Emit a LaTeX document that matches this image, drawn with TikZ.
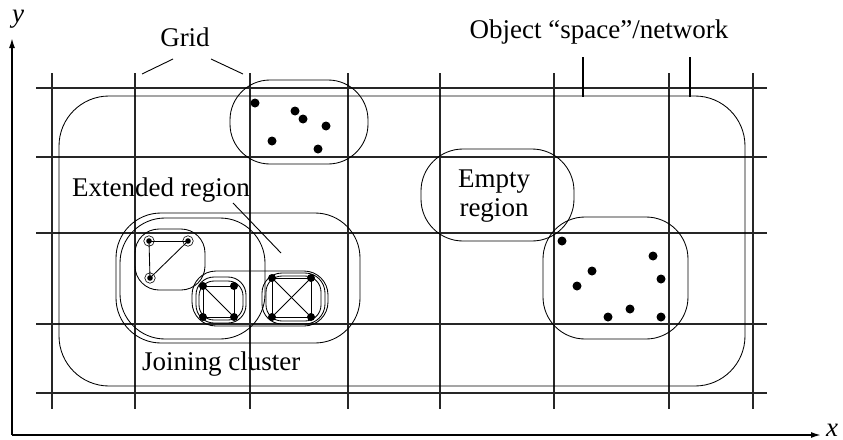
\documentclass[tikz,border=0pt]{standalone}
\usepackage{fontspec}
\setmainfont{Liberation Serif}
\usetikzlibrary{arrows.meta}
\begin{document}
\begin{tikzpicture}[x=1pt,y=-1pt,
  gridline/.style={line width=1.1pt,black!85},
  contour/.style={line width=0.85pt},
  axis/.style={line width=1.6pt,-{Latex[length=10pt,width=6pt]}},
  leader/.style={line width=0.9pt},
  tick/.style={line width=1.6pt},
  dot/.style={circle,fill,inner sep=0pt,minimum size=9pt},
  sdot/.style={circle,fill,inner sep=0pt,minimum size=8pt},
  ring/.style={circle,draw,line width=0.6pt,inner sep=0pt,minimum size=10.5pt},
  edge/.style={line width=0.85pt},
  lbl/.style={inner sep=0pt,font=\fontsize{27}{31}\selectfont}]
\useasboundingbox (0,0) rectangle (843,439);

% axes
\coordinate (origin) at (12,435);
\coordinate (ytip) at (12,38);
\coordinate (xtip) at (821,435);
\draw[axis] (origin) -- (ytip);
\draw[axis] (origin) -- (xtip);
\node[lbl,anchor=base] (ylab) at (18,23) {\itshape y};
\node[lbl,anchor=base west] (xlab) at (826,436) {\itshape x};

% grid
\foreach \gx in {52,135,250,348,440,554,669,753}
  \draw[gridline] (\gx,73) -- (\gx,409);
\foreach \gy in {88,157,233,324,393}
  \draw[gridline] (36,\gy) -- (767,\gy);

% object space / network
\draw[contour] (59,96) [rounded corners=50] rectangle (745,386);

% labels and their leaders
\node[lbl,anchor=base] (gridlab) at (185,46) {Grid};
\coordinate (g1a) at (173,59); \coordinate (g1b) at (142,74);
\coordinate (g2a) at (211,59); \coordinate (g2b) at (243,74);
\draw[leader] (g1a) -- (g1b);
\draw[leader] (g2a) -- (g2b);

\node[lbl,anchor=base] (objlab) at (599,38) {Object “space”/network};
\coordinate (o1a) at (583,57); \coordinate (o1b) at (583,97);
\coordinate (o2a) at (690,57); \coordinate (o2b) at (690,97);
\draw[tick] (o1a) -- (o1b);
\draw[tick] (o2a) -- (o2b);

% upper cluster of points
\draw[contour,rounded corners=40] (230,80) rectangle (368,164);
\foreach \p/\q [count=\i] in {255/103,295/111,303/119,326/126,272/141,318/149}
  \node[dot] (u\i) at (\p,\q) {};

% empty region
\draw[contour,rounded corners=42] (421,149) rectangle (574,241);
\node[lbl,anchor=base] (emptylab) at (494,187) {Empty};
\node[lbl,anchor=base] (regionlab) at (494,216) {region};

% right cluster of points
\draw[contour,rounded corners=42] (543,217) rectangle (688,339);
\foreach \p/\q [count=\i] in {562/241,653/256,592/271,661/279,577/286,630/309,608/317,661/317}
  \node[dot] (r\i) at (\p,\q) {};

% extended region and joining cluster
\draw[contour,rounded corners=45] (116,213) rectangle (360,343);
\draw[contour,rounded corners=45] (120,218) rectangle (265,339);
\node[lbl,anchor=base west] (extlab) at (72,196) {Extended region};
\coordinate (e1a) at (233,203); \coordinate (e1b) at (281,253);
\draw[leader] (e1a) -- (e1b);
\node[lbl,anchor=base west] (joinlab) at (142,370) {Joining cluster};

% triangle cluster
\draw[contour,rounded corners=24] (135,229) rectangle (205,290);
\node[ring] (t1) at (149,241) {};
\node[ring] (t2) at (188,241) {};
\node[ring] (t3) at (150,278) {};
\foreach \t in {t1,t2,t3} \fill (\t.center) circle (2.8pt);
\draw[edge] (t1.center) -- (t2.center);
\draw[edge] (t1.center) -- (t3.center);
\draw[edge] (t3.center) -- (t2.center);

% pair of square clusters
\draw[contour,rounded corners=24] (192,271) rectangle (328,326);
\draw[contour,rounded corners=18] (196,277) rectangle (246,323);
\draw[contour,rounded corners=15] (199,281) rectangle (243,320);
\draw[contour,rounded corners=20] (262,273) rectangle (325,324);
\draw[contour,rounded corners=16] (266,276) rectangle (321,321);

\node[sdot] (a1) at (203,286) {};
\node[sdot] (a2) at (234,286) {};
\node[sdot] (a3) at (203,317) {};
\node[sdot] (a4) at (234,317) {};
\draw[edge] (a1.center) -- (a2.center) -- (a4.center) -- (a3.center) -- cycle;
\draw[edge] (a1.center) -- (a4.center);

\node[sdot] (b1) at (272,278) {};
\node[sdot] (b2) at (311,278) {};
\node[sdot] (b3) at (272,317) {};
\node[sdot] (b4) at (311,317) {};
\draw[edge] (b1.center) -- (b2.center) -- (b4.center) -- (b3.center) -- cycle;
\draw[edge] (b1.center) -- (b4.center);
\draw[edge] (b2.center) -- (b3.center);
\end{tikzpicture}
\end{document}
